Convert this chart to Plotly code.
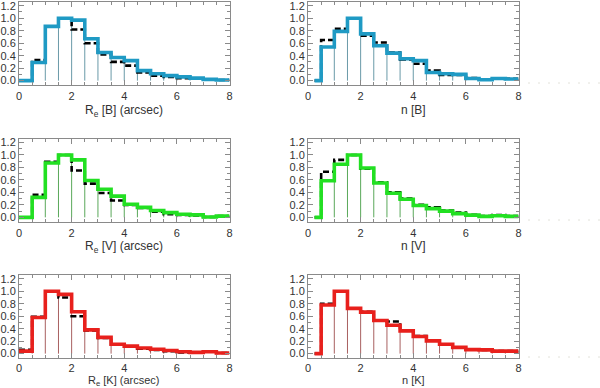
import plotly.graph_objects as go

# ---------------- data ----------------
re_edges = [0.0, 0.5, 1.0, 1.5, 2.0, 2.5, 3.0, 3.5, 4.0, 4.5, 5.0, 5.5, 6.0, 6.5, 7.0, 7.5, 8.0]
n_edges = [0.25, 0.5, 1.0, 1.5, 2.0, 2.5, 3.0, 3.5, 4.0, 4.5, 5.0, 5.5, 6.0, 6.5, 7.0, 7.5, 8.0]

re_B_col = [0.00, 0.29, 0.87, 1.00, 0.97, 0.67, 0.45, 0.37, 0.32, 0.16, 0.11, 0.08, 0.06, 0.04, 0.02, 0.01]
re_B_blk = [0.00, 0.33, 0.87, 1.00, 0.82, 0.60, 0.42, 0.30, 0.24, 0.13, 0.08, 0.06, 0.04, 0.03, 0.02, 0.01]

n_B_col = [0.00, 0.54, 0.79, 1.00, 0.75, 0.56, 0.44, 0.35, 0.32, 0.13, 0.11, 0.10, 0.035, 0.015, 0.035, 0.025]
n_B_blk = [0.00, 0.65, 0.83, 1.00, 0.72, 0.61, 0.45, 0.34, 0.27, 0.16, 0.09, 0.09, 0.04, 0.015, 0.035, 0.03]

re_V_col = [0.00, 0.32, 0.87, 1.00, 0.92, 0.59, 0.45, 0.34, 0.21, 0.16, 0.11, 0.075, 0.05, 0.04, 0.005, 0.02]
re_V_blk = [0.00, 0.36, 0.89, 1.00, 0.75, 0.54, 0.39, 0.27, 0.20, 0.15, 0.09, 0.05, 0.04, 0.03, 0.005, 0.02]

n_V_col = [0.00, 0.585, 0.85, 1.00, 0.79, 0.55, 0.385, 0.29, 0.19, 0.14, 0.10, 0.06, 0.035, 0.015, 0.025, 0.015]
n_V_blk = [0.00, 0.73, 0.92, 1.00, 0.78, 0.56, 0.40, 0.30, 0.20, 0.16, 0.11, 0.075, 0.04, 0.02, 0.035, 0.02]

re_K_col = [0.04, 0.58, 1.00, 0.95, 0.67, 0.38, 0.26, 0.15, 0.12, 0.09, 0.07, 0.05, 0.03, 0.02, 0.03, 0.01]
re_K_blk = [0.06, 0.59, 1.00, 0.90, 0.60, 0.37, 0.25, 0.15, 0.11, 0.08, 0.06, 0.04, 0.02, 0.02, 0.03, 0.01]

n_K_col = [0.00, 0.78, 1.00, 0.725, 0.665, 0.53, 0.455, 0.365, 0.275, 0.205, 0.15, 0.10, 0.065, 0.06, 0.04, 0.04]
n_K_blk = [0.00, 0.80, 1.00, 0.725, 0.67, 0.53, 0.515, 0.375, 0.28, 0.21, 0.15, 0.10, 0.065, 0.06, 0.04, 0.04]

x_titles = ["R<sub>e</sub> [B] (arcsec)", "n [B]",
            "R<sub>e</sub> [V] (arcsec)", "n [V]",
            "R<sub>e</sub> [K] (arcsec)", "n [K]"]
y_ticks = [0.0, 0.2, 0.4, 0.6, 0.8, 1.0, 1.2]
x_ticks = [0, 2, 4, 6, 8]

panels = [
    (re_edges, re_B_col, re_B_blk, "#1f9ac4", "#6a9aa8"),
    (n_edges, n_B_col, n_B_blk, "#1f9ac4", "#6a9aa8"),
    (re_edges, re_V_col, re_V_blk, "#22e022", "#5aa85a"),
    (n_edges, n_V_col, n_V_blk, "#22e022", "#5aa85a"),
    (re_edges, re_K_col, re_K_blk, "#e8201c", "#a86060"),
    (n_edges, n_K_col, n_K_blk, "#e8201c", "#a86060"),
]

# ---------------- layout geometry ----------------
W, H = 600, 388
x_doms = [[19 / W, 229.5 / W], [308 / W, 518.5 / W]]
y_doms = [[1 - 85 / H, 1 - 2 / H], [1 - 221.7 / H, 1 - 138.7 / H], [1 - 358 / H, 1 - 275 / H]]
title_top = [102, 238, 373]
title_size = [12, 12, 11]

fig = go.Figure()
axcol = "#8a8a8a"
fam = "Liberation Sans, Arial, sans-serif"
font = dict(family=fam, size=11, color="#333333")

for i, (edges, col, blk, c_thick, c_thin) in enumerate(panels):
    k = i + 1
    xa = "x" if k == 1 else f"x{k}"
    ya = "y" if k == 1 else f"y{k}"
    # thin bar outlines
    vx, vy = [], []
    for j in range(1, len(edges)):
        left = col[j - 1]
        right = col[j] if j < len(col) else 0
        h = max(left, right)
        vx += [edges[j], edges[j], None]
        vy += [0, h, None]
    fig.add_trace(go.Scatter(x=vx, y=vy, mode="lines", line=dict(color=c_thin, width=1),
                             xaxis=xa, yaxis=ya, showlegend=False, hoverinfo="skip"))
    # black dashed histogram
    fig.add_trace(go.Scatter(x=edges, y=blk + [blk[-1]], mode="lines", line_shape="hv",
                             line=dict(color="black", width=2.6, dash="6px,3px"),
                             xaxis=xa, yaxis=ya, showlegend=False))
    # coloured histogram
    fig.add_trace(go.Scatter(x=edges, y=col + [col[-1]], mode="lines", line_shape="hv",
                             line=dict(color=c_thick, width=3.6),
                             xaxis=xa, yaxis=ya, showlegend=False))

    row, c = divmod(i, 2)
    xkey = "xaxis" if k == 1 else f"xaxis{k}"
    ykey = "yaxis" if k == 1 else f"yaxis{k}"
    fig.layout[xkey] = dict(
        domain=x_doms[c], anchor=ya, range=[0, 8], tickvals=x_ticks, automargin=False,
        ticks="inside", ticklen=5, tickcolor=axcol, showline=True, linecolor=axcol,
        linewidth=1, mirror="allticks", showgrid=False, zeroline=False,
        minor=dict(ticks="inside", ticklen=3, dtick=0.5, tickcolor=axcol, showgrid=False),
        tickfont=font, ticklabelstandoff=1 if row < 2 else 0, ticklabeloverflow="allow",
    )
    fig.layout[ykey] = dict(
        domain=y_doms[row], anchor=xa, range=[-0.07, 1.26], tickvals=y_ticks, tickformat=".1f",
        automargin=False, ticklabeloverflow="allow",
        ticks="inside", ticklen=5, tickcolor=axcol, showline=True, linecolor=axcol,
        linewidth=1, mirror="allticks", showgrid=False, zeroline=False,
        minor=dict(ticks="inside", ticklen=3, dtick=0.1, tickcolor=axcol, showgrid=False),
        tickfont=font,
    )
    fig.add_annotation(text=x_titles[i], xref="paper", yref="paper",
                       x=(x_doms[c][0] + x_doms[c][1]) / 2, y=1 - title_top[row] / H,
                       xanchor="center", yanchor="top", showarrow=False, borderpad=0,
                       font=dict(family=fam, size=title_size[row], color="#333333"))

# faint dotted marks right of the right-hand panels
for yp in [83, 220, 357]:
    fig.add_shape(type="line", xref="paper", yref="paper", x0=528 / W, x1=1.0,
                  y0=1 - yp / H, y1=1 - yp / H,
                  line=dict(color="#e2e2da", width=1, dash="2px,8px"))

fig.update_layout(width=W, height=H, autosize=False,
                  margin=dict(l=0, r=0, t=0, b=0, autoexpand=False),
                  paper_bgcolor="white", plot_bgcolor="white", showlegend=False)

fig.write_html("out.html", config={"displayModeBar": False},
               post_script="document.body.style.margin='0';document.body.style.padding='0';")
